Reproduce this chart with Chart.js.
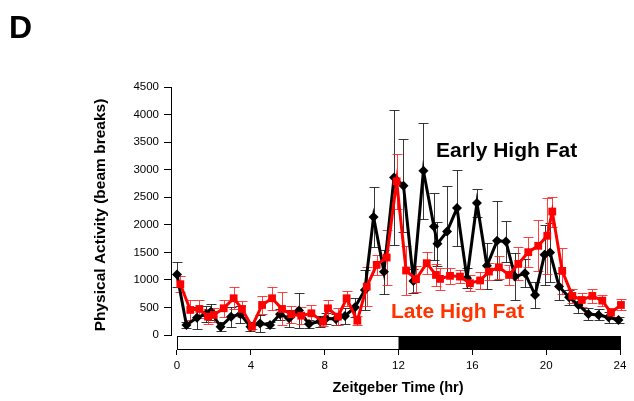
<!DOCTYPE html>
<html>
<head>
<meta charset="utf-8">
<script src="https://cdn.jsdelivr.net/npm/chart.js@4/dist/chart.umd.min.js"></script>
<style>
  html, body { margin: 0; padding: 0; background: #fff; }
  #wrap { width: 634px; height: 401px; position: relative; }
</style>
</head>
<body>
<div id="wrap"><canvas id="c" width="634" height="401"></canvas></div>
<script>
// Zeitgeber time (hr) of each sample
const timesEarly = [0.00, 0.51, 1.08, 1.57, 1.84, 2.36, 2.93, 3.44, 3.98, 4.50, 5.04, 5.58,
  6.07, 6.61, 7.15, 7.75, 8.07, 8.61, 9.10, 9.64, 10.18, 10.65, 11.21, 11.76,
  12.27, 12.81, 13.35, 13.92, 14.11, 14.63, 15.17, 15.71, 16.25, 16.79, 17.34, 17.82,
  18.31, 18.85, 19.40, 19.91, 20.21, 20.70, 21.24, 21.75, 22.29, 22.84, 23.38, 23.92];
const timesLate = [0.18, 0.72, 1.21, 1.68, 1.99, 2.53, 3.07, 3.52, 4.06, 4.61, 5.15, 5.69,
  6.19, 6.73, 7.28, 7.91, 8.18, 8.72, 9.19, 9.77, 10.28, 10.82, 11.36, 11.90,
  12.41, 12.95, 13.53, 14.03, 14.25, 14.79, 15.33, 15.87, 16.42, 16.90, 17.44, 17.99,
  18.49, 19.03, 19.57, 20.06, 20.33, 20.87, 21.42, 21.93, 22.50, 23.04, 23.51, 24.05];

// Physical activity (beam breaks), mean and error
const earlyHighFat = [1100, 182, 315, 380, 420, 150, 333, 376, 150, 210, 182, 376,
  303, 445, 200, 250, 300, 290, 345, 503, 818, 2140, 1150, 2860,
  2710, 980, 2980, 1970, 1655, 1878, 2303, 1030, 2395, 1255, 1709, 1697,
  1060, 1121, 727, 1455, 1497, 879, 685, 545, 382, 364, 321, 273];
const earlyHighFatErr = [230, 50, 200, 150, 150, 80, 180, 150, 80, 160, 60, 100,
  150, 310, 80, 100, 100, 100, 150, 170, 360, 545, 400, 1230,
  850, 210, 870, 600, 400, 830, 690, 180, 260, 420, 715, 370,
  430, 250, 240, 545, 540, 240, 140, 140, 110, 100, 100, 50];

const lateHighFat = [922, 455, 473, 333, 364, 485, 667, 473, 150, 545, 667, 473,
  376, 351, 394, 242, 485, 333, 667, 260, 878, 1273, 1406, 2788,
  1170, 1013, 1303, 1090, 1018, 1073, 1060, 940, 990, 1151, 1230, 1090,
  1290, 1503, 1618, 1800, 2240, 1163, 709, 636, 709, 624, 405, 545];
const lateHighFatErr = [150, 180, 170, 130, 130, 150, 200, 150, 50, 165, 205, 300,
  150, 150, 150, 80, 150, 150, 140, 80, 360, 180, 500, 500,
  440, 240, 200, 200, 200, 150, 120, 150, 150, 150, 210, 180,
  300, 275, 460, 685, 273, 413, 130, 130, 120, 100, 80, 100];

const yTickValues = [0, 500, 1000, 1500, 2000, 2500, 3000, 3500, 4000, 4500];
const xTickValues = [0, 4, 8, 12, 16, 20, 24];
const lightPhase = [0, 12];   // lights on
const darkPhase = [12, 24];   // lights off

const toPoints = (ts, vs) => ts.map((t, i) => ({ x: t, y: vs[i] }));

const FONT = "'Liberation Sans', Arial, sans-serif";

// vertical error bars with caps, drawn under the lines
const errorBars = {
  id: 'errorBars',
  beforeDatasetsDraw(chart) {
    const { ctx, scales: { x, y } } = chart;
    for (let i = chart.data.datasets.length - 1; i >= 0; i--) {
      const ds = chart.data.datasets[i];
      if (!ds.errors) continue;
      ctx.save();
      ctx.strokeStyle = ds.errorColor;
      ctx.lineWidth = 1;
      ctx.beginPath();
      ds.data.forEach((p, j) => {
        const e = ds.errors[j];
        const px = Math.round(x.getPixelForValue(p.x)) + 0.5;
        const top = Math.round(y.getPixelForValue(p.y + e)) + 0.5;
        const bot = Math.round(y.getPixelForValue(p.y - e)) + 0.5;
        ctx.moveTo(px, top); ctx.lineTo(px, bot);
        ctx.moveTo(px - 5, top); ctx.lineTo(px + 5, top);
        ctx.moveTo(px - 5, bot); ctx.lineTo(px + 5, bot);
      });
      ctx.stroke();
      ctx.restore();
    }
  }
};

// light/dark bar along the time axis, y axis line, and text labels
const decorations = {
  id: 'decorations',
  afterDraw(chart) {
    const { ctx, chartArea, scales: { x, y } } = chart;
    ctx.save();
    const top = Math.round(y.getPixelForValue(0)) + 1.5;
    const bottom = Math.round(chartArea.bottom) - 0.5;
    const xl = Math.round(x.getPixelForValue(lightPhase[0])) + 0.5;
    const xm = Math.round(x.getPixelForValue(darkPhase[0])) + 0.5;
    const xr = Math.round(x.getPixelForValue(darkPhase[1])) + 0.5;
    ctx.fillStyle = '#fff';
    ctx.fillRect(xl, top, xm - xl, bottom - top);
    ctx.fillStyle = '#000';
    ctx.fillRect(xm, top, xr - xm, bottom - top);
    ctx.strokeStyle = '#000';
    ctx.lineWidth = 1;
    ctx.strokeRect(xl, top, xr - xl, bottom - top);

    // y axis line
    const ax = Math.round(chartArea.left) + 0.5;
    ctx.beginPath();
    ctx.moveTo(ax, Math.round(y.getPixelForValue(4500)));
    ctx.lineTo(ax, Math.round(y.getPixelForValue(0)) + 1);
    ctx.stroke();

    ctx.fillStyle = '#000';
    ctx.textAlign = 'left';
    ctx.textBaseline = 'alphabetic';
    ctx.font = 'bold 32px ' + FONT;
    ctx.fillText('D', 9, 38);

    ctx.font = 'bold 21px ' + FONT;
    ctx.fillText('Early High Fat', 436, 157);
    ctx.fillStyle = '#ff3300';
    ctx.fillText('Late High Fat', 391, 318);

    ctx.fillStyle = '#000';
    ctx.textAlign = 'center';
    ctx.textBaseline = 'middle';
    ctx.font = 'bold 14.5px ' + FONT;
    ctx.fillText('Zeitgeber Time (hr)', 398, 388);

    ctx.translate(101, 215);
    ctx.rotate(-Math.PI / 2);
    ctx.font = 'bold 15.5px ' + FONT;
    ctx.fillText('Physical Activity (beam breaks)', 0, 0);
    ctx.restore();
  }
};

new Chart(document.getElementById('c'), {
  type: 'line',
  data: {
    datasets: [
      {
        label: 'Late High Fat',
        data: toPoints(timesLate, lateHighFat),
        errors: lateHighFatErr,
        errorColor: 'rgba(255,30,30,0.85)',
        borderColor: '#ff0000',
        backgroundColor: '#ff0000',
        borderWidth: 3,
        pointStyle: 'rect',
        pointRadius: 5.5,
        pointBorderWidth: 0,
        tension: 0,
        clip: false
      },
      {
        label: 'Early High Fat',
        data: toPoints(timesEarly, earlyHighFat),
        errors: earlyHighFatErr,
        errorColor: 'rgba(20,20,20,0.85)',
        borderColor: '#000000',
        backgroundColor: '#000000',
        borderWidth: 3,
        pointStyle: 'rectRot',
        pointRadius: 5,
        pointBorderWidth: 0,
        tension: 0,
        clip: false
      }
    ]
  },
  options: {
    responsive: false,
    animation: false,
    devicePixelRatio: 1,
    layout: { padding: { left: 84, top: 87, right: 14, bottom: 0 } },
    plugins: { legend: { display: false }, tooltip: { enabled: false } },
    scales: {
      x: {
        type: 'linear',
        min: -0.325,
        max: 24,
        afterBuildTicks: s => { s.ticks = xTickValues.map(v => ({ value: v })); },
        afterFit: s => { s.height = 51; },
        border: { display: false },
        grid: { display: true, drawOnChartArea: false, drawTicks: true, tickLength: 5, color: '#000', lineWidth: 1 },
        ticks: { color: '#000', font: { family: FONT, size: 11.5 }, padding: 4, maxRotation: 0, autoSkip: false,
                 callback: v => String(v) }
      },
      y: {
        type: 'linear',
        min: -272,
        max: 4500,
        afterBuildTicks: s => { s.ticks = yTickValues.map(v => ({ value: v })); },
        afterFit: s => { s.width = 87; },
        border: { display: false },
        grid: { display: true, drawOnChartArea: false, drawTicks: true, tickLength: 7, color: '#000', lineWidth: 1 },
        ticks: { color: '#000', font: { family: FONT, size: 11.5 }, padding: 5, autoSkip: false,
                 callback: v => String(v) }
      }
    }
  },
  plugins: [errorBars, decorations]
});
</script>
</body>
</html>
